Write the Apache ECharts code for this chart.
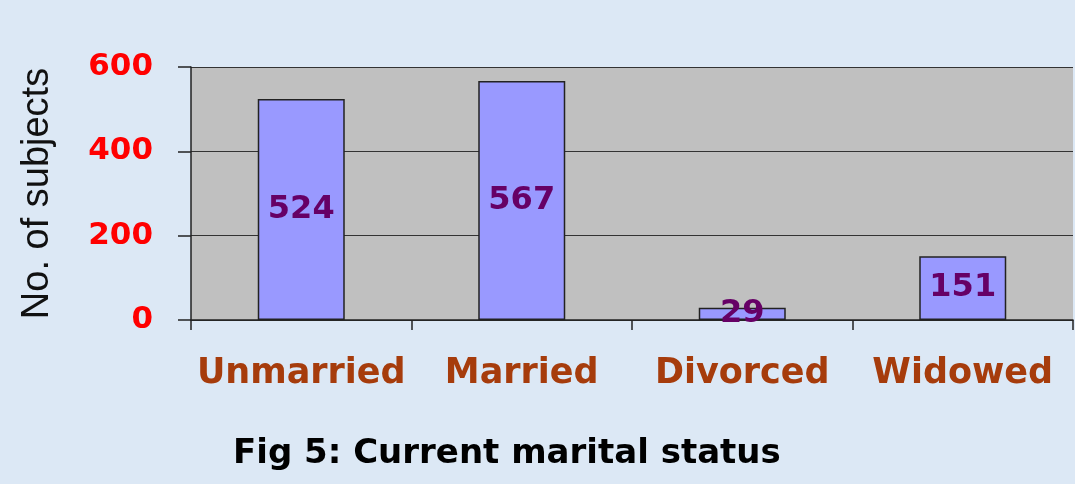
<!DOCTYPE html>
<html>
<head>
<meta charset="utf-8">
<script src="https://cdn.jsdelivr.net/npm/echarts@6/dist/echarts.min.js"></script>
<style>
html,body{margin:0;padding:0;background:#dce8f5;}
#chart{width:1075px;height:484px;}
</style>
</head>
<body>
<div id="chart"></div>
<script>
const categories = ['Unmarried', 'Married', 'Divorced', 'Widowed'];
const subjects = [524, 567, 29, 151];
const yTicks = [0, 200, 400, 600];
const titleText = 'Fig 5: Current marital status';
const yName = 'No. of subjects';

const chart = echarts.init(document.getElementById('chart'));
chart.setOption({
  backgroundColor: '#dce8f5',
  animation: false,
  title: {
    text: titleText,
    left: 228,
    top: 432,
    textStyle: {fontFamily: 'DejaVu Sans', fontWeight: 'bold', fontSize: 34, color: '#000'}
  },
  grid: {
    left: 191, right: 2, top: 67, bottom: 164,
    outerBoundsMode: 'none',
    containLabel: false,
    show: true, backgroundColor: '#c0c0c0', borderWidth: 0
  },
  xAxis: {
    type: 'category',
    data: categories,
    axisLine: {show: true, lineStyle: {color: '#222', width: 1.5}},
    axisTick: {show: true, alignWithLabel: false, length: 10, lineStyle: {color: '#222', width: 1.5}},
    axisLabel: {
      margin: 36, interval: 0,
      fontFamily: 'DejaVu Sans', fontWeight: 'bold', fontSize: 35, color: '#a63c0c'
    }
  },
  yAxis: {
    type: 'value',
    min: yTicks[0], max: yTicks[yTicks.length - 1], interval: yTicks[1] - yTicks[0],
    name: yName,
    nameLocation: 'middle',
    nameGap: 134,
    nameTextStyle: {fontFamily: 'Liberation Sans', fontSize: 38, color: '#111'},
    axisLine: {show: true, lineStyle: {color: '#222', width: 1.5}},
    axisTick: {show: true, inside: false, length: 13, lineStyle: {color: '#222', width: 1.5}},
    splitLine: {show: true, lineStyle: {color: '#333', width: 1.2}},
    axisLabel: {
      margin: 38,
      fontFamily: 'DejaVu Sans', fontWeight: 'bold', fontSize: 31, color: '#ff0000'
    }
  },
  series: [{
    type: 'bar',
    data: subjects,
    barWidth: 87,
    itemStyle: {color: '#9999ff', borderColor: '#222', borderWidth: 1.5},
    label: {
      show: true, position: 'inside',
      fontFamily: 'DejaVu Sans', fontWeight: 'bold', fontSize: 32, color: '#660066'
    }
  }]
});
</script>
</body>
</html>
